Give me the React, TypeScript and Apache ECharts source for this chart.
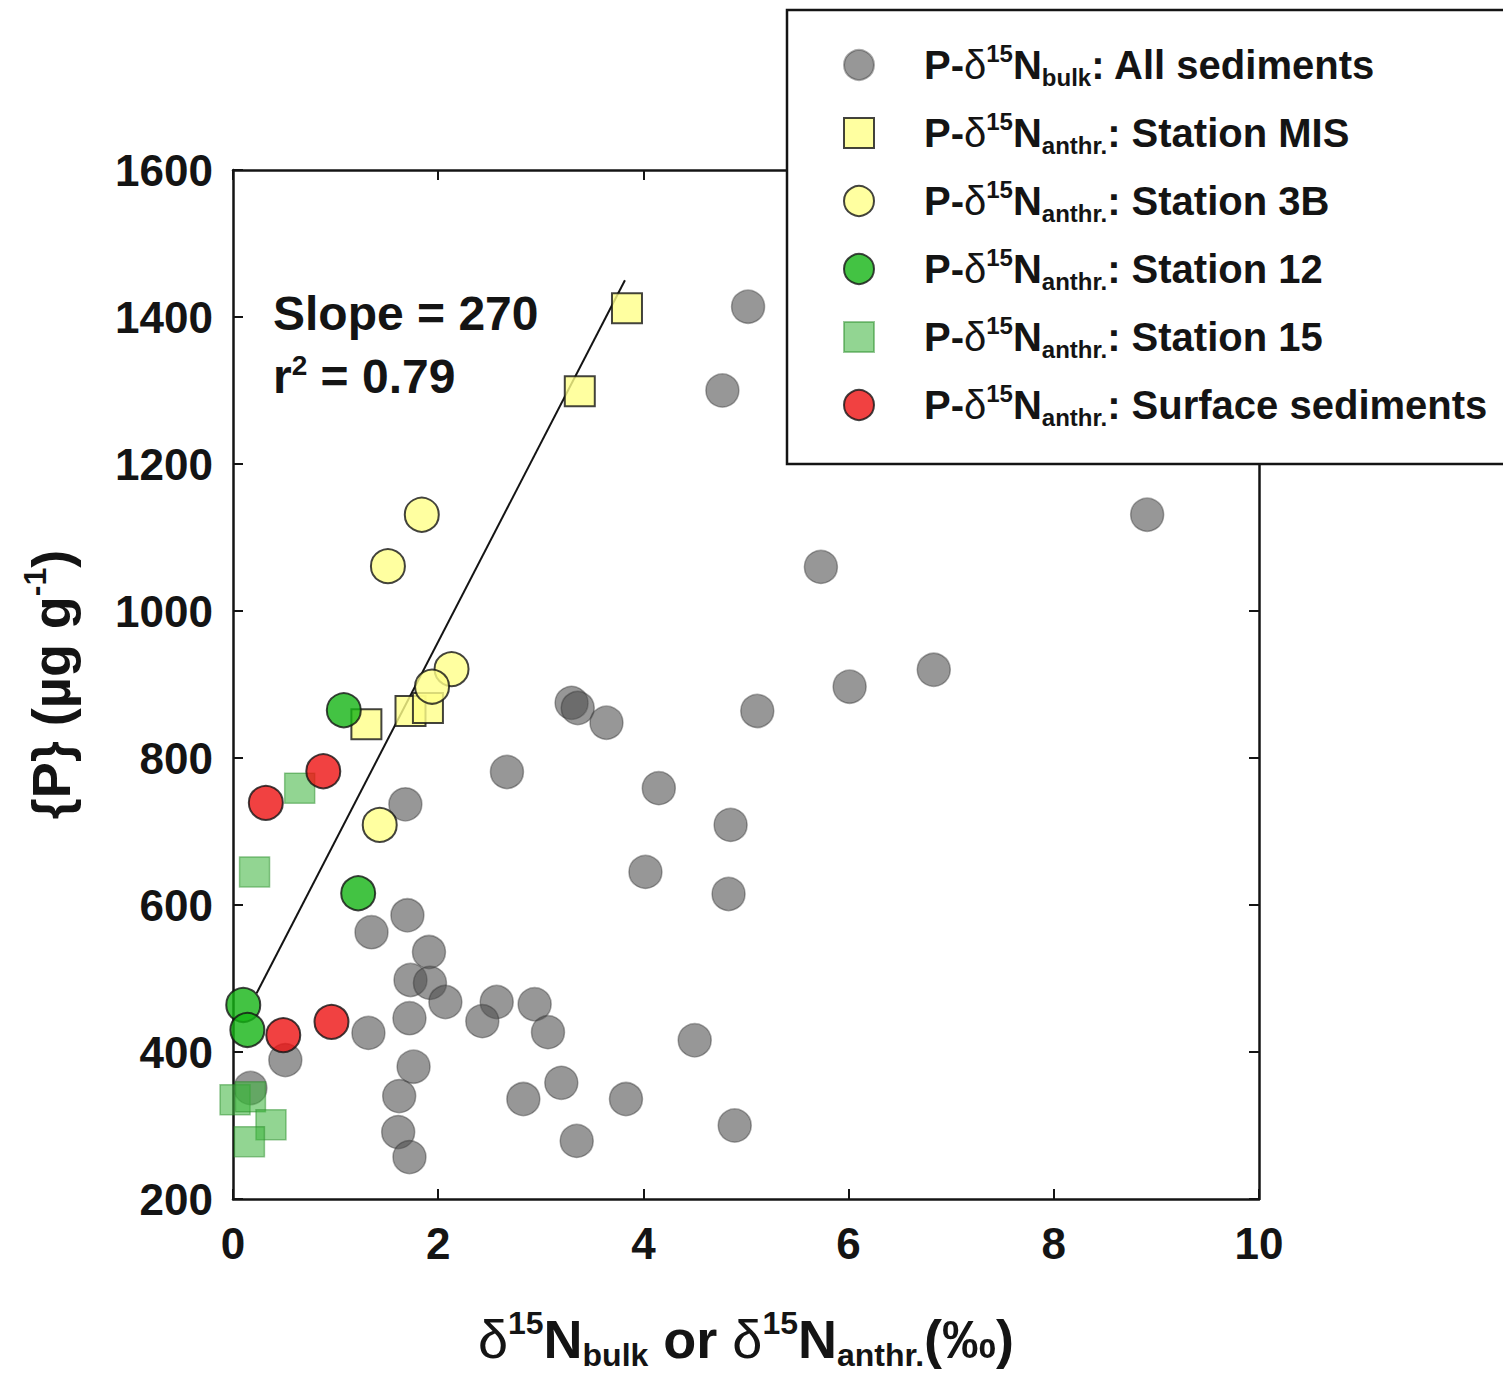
import React, { useEffect, useRef } from "react";
import * as echarts from "echarts";

// ---------- data ----------
const allSedX = [5.02, 4.77, 8.91, 5.73, 6.83, 6.01, 5.11, 3.30, 3.36, 3.64, 2.67, 4.15, 1.68, 4.85, 4.02, 4.83, 1.70, 1.35, 1.91, 1.73, 1.92, 2.07, 2.57, 2.94, 2.43, 1.72, 3.07, 1.32, 4.50, 0.51, 0.17, 1.76, 1.62, 3.20, 2.83, 3.83, 4.89, 1.61, 3.35, 1.72];
const allSedY = [1414, 1300, 1131, 1060, 920, 897, 864, 875, 868, 848, 781, 759, 737, 709, 645, 615, 586, 563, 536, 498, 494, 468, 468, 465, 442, 446, 427, 426, 416, 389, 351, 380, 340, 358, 336, 336, 300, 291, 279, 257];

const misX = [3.84, 3.38, 1.30, 1.73, 1.90];
const misY = [1412, 1299, 846, 864, 868];

const st3bX = [1.84, 1.51, 2.13, 1.94, 1.43];
const st3bY = [1131, 1061, 921, 897, 709];

const st12X = [1.08, 1.22, 0.10, 0.14];
const st12Y = [865, 616, 464, 430];

const st15X = [0.65, 0.21, 0.02, 0.17, 0.37, 0.16];
const st15Y = [759, 645, 335, 339, 301, 278];

const surfX = [0.32, 0.88, 0.49, 0.96];
const surfY = [739, 782, 423, 441];

const fitX = [0.23, 3.82];
const fitY = [480, 1450];

const seriesNames = ["All sediments", "Station MIS", "Station 3B", "Station 12", "Station 15", "Surface sediments"];
const seriesSubs = ["bulk", "anthr.", "anthr.", "anthr.", "anthr.", "anthr."];

const slopeText = "Slope = 270";
const r2Value = "0.79";

const xMin = 0, xMax = 10, xStep = 2;
const yMin = 200, yMax = 1600, yStep = 200;

// ---------- helpers ----------
const pairs = (xs: number[], ys: number[]) => xs.map((x, i) => [x, ys[i]]);
const FONT = '"Liberation Sans", Arial, Helvetica, sans-serif';
const INK = "#141414";
const SQUARE_ICON = "path://M0 0H10V10H0Z";

export default function App() {
  const ref = useRef<HTMLDivElement>(null);

  useEffect(() => {
    if (!ref.current) return;
    const chart = echarts.init(ref.current, undefined, { renderer: "svg" });

    const axisLine = { show: true, onZero: false, lineStyle: { color: INK, width: 2.5 } };
    const axisTick = { show: true, inside: true, length: 10, lineStyle: { color: INK, width: 2 } };
    const tickLabel = { fontSize: 44, fontWeight: "bold", color: INK, fontFamily: FONT, formatter: (v: number) => String(v) };

    const titleRich = {
      d: { fontSize: 54, fontWeight: "normal", lineHeight: 64, fontFamily: FONT, color: INK },
      sup: { fontSize: 32, fontWeight: "bold", lineHeight: 32, verticalAlign: "top", fontFamily: FONT, color: INK },
      sub: { fontSize: 32, fontWeight: "bold", lineHeight: 32, verticalAlign: "bottom", fontFamily: FONT, color: INK },
    };
    const titleStyle = { fontSize: 54, fontWeight: "bold", lineHeight: 64, fontFamily: FONT, color: INK, rich: titleRich };

    const legendRich = {
      p: { fontSize: 40, fontWeight: "bold", lineHeight: 48, fontFamily: FONT, color: INK, padding: [0, 0, 0, 43] },
      a: { fontSize: 40, fontWeight: "bold", lineHeight: 48, fontFamily: FONT, color: INK },
      d: { fontSize: 40, fontWeight: "normal", lineHeight: 48, fontFamily: FONT, color: INK },
      sup: { fontSize: 24, fontWeight: "bold", lineHeight: 24, verticalAlign: "top", fontFamily: FONT, color: INK },
      sub: { fontSize: 24, fontWeight: "bold", lineHeight: 24, verticalAlign: "bottom", fontFamily: FONT, color: INK },
    };

    const blackBorder = { borderColor: INK, borderWidth: 2 };
    const legendIcons = ["circle", SQUARE_ICON, "circle", "circle", SQUARE_ICON, "circle"];

    const option: any = {
      animation: false,
      backgroundColor: "#ffffff",
      grid: { left: 233, right: 244, top: 170, bottom: 186, containLabel: false },
      xAxis: [
        {
          type: "value", min: xMin, max: xMax, interval: xStep, position: "bottom",
          axisLine, axisTick, splitLine: { show: false },
          axisLabel: { ...tickLabel, margin: 22 },
          name: "{d|δ}{sup|15}N{sub|bulk} or {d|δ}{sup|15}N{sub|anthr.}(‰)",
          nameLocation: "middle", nameGap: 108, nameTextStyle: titleStyle,
        },
        {
          type: "value", min: xMin, max: xMax, interval: xStep, position: "top",
          axisLine, axisTick, splitLine: { show: false }, axisLabel: { show: false },
        },
      ],
      yAxis: [
        {
          type: "value", min: yMin, max: yMax, interval: yStep, position: "left",
          axisLine, axisTick, splitLine: { show: false },
          axisLabel: { ...tickLabel, margin: 20 },
          name: "{P} (µg g{sup|-1})",
          nameLocation: "middle", nameRotate: 90, nameGap: 150, nameTextStyle: titleStyle,
        },
        {
          type: "value", min: yMin, max: yMax, interval: yStep, position: "right",
          axisLine, axisTick, splitLine: { show: false }, axisLabel: { show: false },
        },
      ],
      legend: {
        orient: "vertical", left: 787, top: 10,
        data: seriesNames.map((n, i) => ({ name: n, icon: legendIcons[i] })),
        itemWidth: 34, itemHeight: 30, itemGap: 20,
        padding: [31, 24, 35, 56],
        borderColor: INK, borderWidth: 2.5, backgroundColor: "#ffffff",
        selectedMode: false,
        formatter: (name: string) => {
          const i = seriesNames.indexOf(name);
          return `{p|P-}{d|δ}{sup|15}{a|N}{sub|${seriesSubs[i]}}{a|: ${name}}`;
        },
        textStyle: { fontSize: 40, fontWeight: "bold", fontFamily: FONT, color: INK, rich: legendRich },
      },
      graphic: [
        {
          type: "text", x: 273, y: 313, z: 100,
          style: { text: slopeText, fontSize: 48, fontWeight: "bold", fontFamily: FONT, fill: INK, align: "left", verticalAlign: "middle" },
        },
        {
          type: "text", x: 273, y: 376, z: 100,
          style: {
            text: `{a|r}{sup|2}{a| = ${r2Value}}`, align: "left", verticalAlign: "middle", fill: INK,
            fontSize: 48, fontWeight: "bold", fontFamily: FONT,
            rich: {
              a: { fontSize: 48, fontWeight: "bold", lineHeight: 50, fontFamily: FONT, fill: INK },
              sup: { fontSize: 28, fontWeight: "bold", lineHeight: 28, verticalAlign: "top", fontFamily: FONT, fill: INK },
            },
          },
        },
      ],
      series: [
        {
          name: seriesNames[0], type: "scatter", symbol: "circle", symbolSize: 33, z: 2,
          data: pairs(allSedX, allSedY),
          itemStyle: { color: "rgba(80,80,80,0.74)", borderColor: "rgba(45,45,45,0.5)", borderWidth: 1.5 },
        },
        {
          name: "fit", type: "line", data: pairs(fitX, fitY), symbol: "none", z: 3, silent: true,
          lineStyle: { color: INK, width: 2 },
        },
        {
          name: seriesNames[1], type: "scatter", symbol: "rect", symbolSize: 30, z: 4,
          data: pairs(misX, misY), itemStyle: { color: "#ffff88", ...blackBorder },
        },
        {
          name: seriesNames[2], type: "scatter", symbol: "circle", symbolSize: 34, z: 4,
          data: pairs(st3bX, st3bY), itemStyle: { color: "#ffff88", ...blackBorder },
        },
        {
          name: seriesNames[3], type: "scatter", symbol: "circle", symbolSize: 34, z: 4,
          data: pairs(st12X, st12Y), itemStyle: { color: "#14b414", ...blackBorder },
        },
        {
          name: seriesNames[4], type: "scatter", symbol: "rect", symbolSize: 30, z: 4,
          data: pairs(st15X, st15Y),
          itemStyle: { color: "rgba(60,180,60,0.7)", borderColor: "rgba(40,140,40,0.6)", borderWidth: 1.5 },
        },
        {
          name: seriesNames[5], type: "scatter", symbol: "circle", symbolSize: 34, z: 5,
          data: pairs(surfX, surfY), itemStyle: { color: "#ee1111", ...blackBorder },
        },
      ],
    };

    chart.setOption(option);
    return () => chart.dispose();
  }, []);

  return (
    <div
      ref={ref}
      style={{ position: "fixed", left: 0, top: 0, width: 1503, height: 1385, background: "#fff" }}
    />
  );
}
